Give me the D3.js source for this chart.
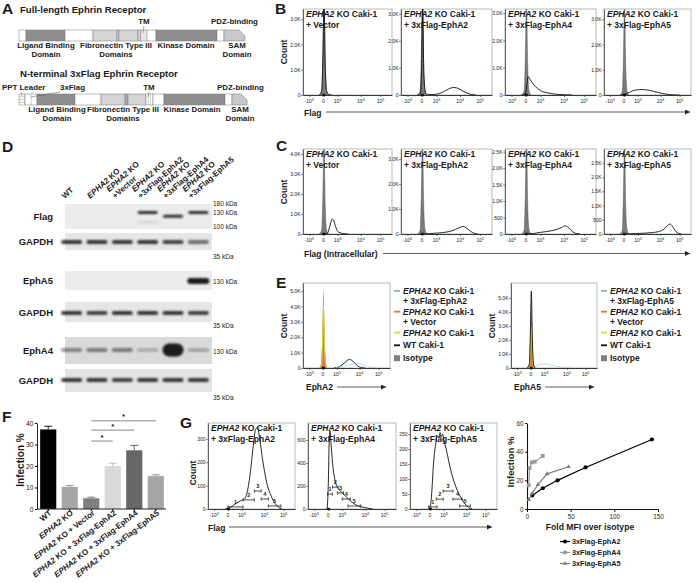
<!DOCTYPE html>
<html><head><meta charset="utf-8">
<script src="https://cdn.jsdelivr.net/npm/d3@7"></script>
<style>
body{margin:0;background:#fff}
svg{font-family:"Liberation Sans",Arial,sans-serif}
text{fill:#1a1a1a}
</style></head><body>
<script>
// ================= DATA =================
// Panel A domain maps [start, end, type]
const fullDomains = [[0,7,"w"],[7,46,"d"],[46,74,"w"],[74,98,"l"],[98,100,"l"],[100,119,"l"],[119,122,"l"],[122,128,"t"],[128,137,"w"],[137,198,"d"],[198,205,"w"],[205,226,"s"]];
const flagDomains = [[0,6,"p"],[6,18,"f"],[18,56,"d"],[56,82,"w"],[82,106,"l"],[106,109,"m"],[109,127,"l"],[127,134,"t"],[134,145,"w"],[145,206,"d"],[206,213,"w"],[213,228,"s"]];
const fullLabels = [["Ligand Binding","Domain",27],["Fibronectin Type III","Domains",97],["Kinase Domain","",167],["SAM","Domain",218]];
const flagLabels = [["Ligand Binding","Domain",38],["Fibronectin Type III","Domains",104],["Kinase Domain","",173],["SAM","Domain",221]];

// Flow x-axis ticks (biexponential decades)
const uTicks = [-1,0,1,2,3];
const uTickLabels = [["-10","3"],["0",""],["10","3"],["10","4"],["10","5"]];

// Panel B (surface Flag)
const bTitles = ["+ Vector","+ 3xFlag-EphA2","+ 3xFlag-EphA4","+ 3xFlag-EphA5"];
const bYmax = [3400,3180,3150,3400];
const bTicks = [[0,1000,2000,3000],[0,1000,2000,3000],[0,1000,2000,3000],[0,1000,2000,3000]];
const isoB = [
 [[-0.3,0],[-0.12,150],[-0.04,1500],[0.04,3700],[0.12,1200],[0.22,150],[0.35,0]],
 [[-0.3,0],[-0.12,150],[-0.04,1400],[0.04,3500],[0.12,1100],[0.22,120],[0.35,0]],
 [[-0.3,0],[-0.12,150],[-0.04,1400],[0.04,3500],[0.12,1100],[0.22,120],[0.35,0]],
 [[-0.3,0],[-0.12,150],[-0.04,1500],[0.04,3700],[0.12,1200],[0.22,150],[0.35,0]]];
const lineB = [
 [[-0.3,0],[-0.12,180],[-0.04,1600],[0.04,3700],[0.12,1300],[0.22,170],[0.4,10],[0.6,0]],
 [[-0.3,0],[-0.1,90],[-0.03,900],[0.05,3400],[0.13,800],[0.25,90],[0.5,15],[1.0,30],[1.3,120],[1.55,240],[1.75,280],[1.95,230],[2.2,120],[2.5,30],[2.8,0]],
 [[-0.3,0],[-0.05,40],[0.05,300],[0.15,670],[0.3,560],[0.5,400],[0.8,240],[1.0,160],[1.3,80],[1.6,35],[2.0,10],[2.4,0]],
 [[-0.2,0],[0.0,20],[0.3,80],[0.6,160],[0.9,200],[1.2,215],[1.5,185],[1.8,120],[2.1,60],[2.4,20],[2.7,5],[3.0,0]]];

// Panel C (intracellular Flag)
const cYmax = [4250,3400,2580,2980];
const cTicks = [[0,1000,2000,3000,4000],[0,1000,2000,3000],[0,500,1000,1500,2000,2500],[0,500,1000,1500,2000,2500]];
const isoC = [
 [[-0.3,0],[-0.12,200],[-0.04,2000],[0.04,4700],[0.12,1500],[0.22,200],[0.35,0]],
 [[-0.3,0],[-0.12,160],[-0.04,1600],[0.04,3800],[0.12,1200],[0.22,160],[0.35,0]],
 [[-0.3,0],[-0.12,120],[-0.04,1200],[0.04,2900],[0.12,900],[0.22,120],[0.35,0]],
 [[-0.3,0],[-0.12,140],[-0.04,1400],[0.04,3300],[0.12,1000],[0.22,140],[0.35,0]]];
const lineC = [
 [[0.1,0],[0.3,60],[0.45,400],[0.6,740],[0.7,700],[0.85,380],[1.0,130],[1.2,30],[1.45,0]],
 [[0.1,0],[0.5,15],[1.0,35],[1.5,90],[1.8,180],[2.0,270],[2.15,300],[2.3,250],[2.5,120],[2.7,30],[2.9,0]],
 [[0.1,0],[0.6,20],[1.0,50],[1.4,90],[1.7,140],[1.9,200],[2.05,250],[2.2,200],[2.4,80],[2.6,15],[2.8,0]],
 [[0.1,0],[0.8,15],[1.4,35],[1.9,80],[2.2,180],[2.4,320],[2.5,350],[2.62,270],[2.78,100],[2.95,20],[3.1,0]]];

// Panel E (EphA2 / EphA5 surface)
const eYmax = [5520,6070];
const eTicks = [0,1000,2000,3000,4000,5000];
const eAxisLabels = ["EphA2","EphA5"];
const isoE = [
 [[-0.3,0],[-0.12,300],[-0.04,2500],[0.03,5100],[0.1,2000],[0.2,300],[0.32,0]],
 [[-0.3,0],[-0.12,260],[-0.04,2200],[0.03,4600],[0.1,1800],[0.2,260],[0.32,0]]];
const orangeE = [
 [[-0.28,0],[-0.1,250],[-0.03,1700],[0.04,3600],[0.11,1400],[0.2,220],[0.3,0]],
 [[-0.28,0],[-0.1,240],[-0.03,1600],[0.04,3400],[0.11,1300],[0.2,200],[0.3,0]]];
const yellowE = [
 [[-0.28,0],[-0.1,250],[-0.03,1800],[0.04,4000],[0.11,1500],[0.2,200],[0.3,0]],
 [[-0.28,0],[-0.1,200],[-0.03,1400],[0.04,3000],[0.11,1100],[0.2,160],[0.3,0]]];
const blackE = [
 [[0.8,0],[1.1,80],[1.35,350],[1.55,560],[1.7,450],[1.9,150],[2.1,30],[2.3,0]],
 [[-0.28,0],[-0.1,300],[-0.03,2500],[0.04,5500],[0.11,2200],[0.2,300],[0.3,0]]];
const blueE = [
 [[0.7,0],[1.1,60],[1.5,200],[1.85,300],[2.1,240],[2.4,100],[2.7,20],[2.9,0]],
 [[0.1,0],[0.3,80],[0.6,220],[0.9,280],[1.2,230],[1.5,130],[1.8,50],[2.1,10],[2.3,0]]];
const eLegendFirst = ["+ 3xFlag-EphA2","+ 3xFlag-EphA5"];

// Panel F
const fCats = ["WT","EPHA2 KO","EPHA2 KO + Vector","EPHA2 KO + 3xFlag-EphA2","EPHA2 KO + 3xFlag-EphA4","EPHA2 KO + 3xFlag-EphA5"];
const fVals = [37,10.3,5,20,27.3,15.3];
const fErr = [1.5,0.6,0.5,1.3,2.3,0.6];
const fColors = ["#000000","#a6a6a6","#7f7f7f","#d9d9d9","#676767","#a6a6a6"];
const fSig = [[2,3,31.6],[2,4,36.7],[2,5,41.0]];

// Panel G histograms
const gTitles = ["+ 3xFlag-EphA2","+ 3xFlag-EphA4","+ 3xFlag-EphA5"];
const gYmax = [368,748,287];
const gTicks = [[0,100,200,300],[0,200,400,600],[0,50,100,150,200,250]];
const lineG = [
 [[-0.2,0],[0,3],[0.3,12],[0.6,25],[0.9,35],[1.1,42],[1.25,80],[1.4,180],[1.5,270],[1.6,340],[1.68,348],[1.8,290],[1.9,220],[2.0,160],[2.15,100],[2.3,65],[2.5,30],[2.7,10],[2.9,0]],
 [[-0.08,0],[0.0,200],[0.07,600],[0.12,680],[0.2,560],[0.35,350],[0.5,240],[0.7,180],[1.0,140],[1.3,80],[1.6,35],[2.0,12],[2.4,0]],
 [[-0.1,0],[0,5],[0.1,40],[0.25,150],[0.4,215],[0.55,245],[0.65,238],[0.72,255],[0.8,240],[0.9,250],[1.0,230],[1.1,200],[1.3,130],[1.5,80],[1.7,45],[1.9,20],[2.1,5],[2.3,0]]];
// gates [uStart, uEnd, countY, label]
const gatesG = [
 [[0,1.05,9,"1"],[1.05,1.55,39,"2"],[1.55,1.85,77,"3"],[1.85,2.2,43,"4"],[2.2,2.85,13,"5"]],
 [[-0.05,0.3,130,"1"],[0.3,0.7,190,"2"],[0.65,1.05,140,"3"],[1.0,1.35,87,"4"],[1.25,1.8,26,"5"]],
 [[-0.1,0.5,7,"1"],[0.45,0.95,33,"2"],[0.95,1.4,60,"3"],[1.4,1.8,33,"4"],[1.7,2.2,10,"5"]]];

// Panel G scatter
const g4Names = ["3xFlag-EphA2","3xFlag-EphA4","3xFlag-EphA5"];
const g4A2 = [[6,9.5],[18,14.5],[35,20],[67,29],[143,48.5]];
const g4A4 = [[2,16.5],[3,28.5],[5.5,32.5],[9,33],[18,37]];
const g4A5 = [[2,6.5],[6,11],[12.5,17],[23,24.5],[47.5,29.5]];

// Panel D blot
const dLanes = [["WT"],["EPHA2 KO"],["EPHA2 KO","+Vector"],["EPHA2 KO","+3xFlag-EphA2"],["EPHA2 KO","+3xFlag-EphA4"],["EPHA2 KO","+3xFlag-EphA5"]];
const flagBands = [[3,130,0.9],[4,122,0.9],[5,130,0.9],[3,110,0.12]]; // lane, kDa, intensity
const gapdh1 = [0.85,0.85,0.85,0.85,0.8,0.6];
const gapdh2 = [0.85,0.8,0.85,0.85,0.85,0.8];
const gapdh3 = [0.85,0.85,0.8,0.85,0.85,0.85];
const epha5Int = [0,0,0,0,0,1];
const epha4Int = [0.45,0.5,0.5,0.3,1,0.35];
const epha4Thick = [4,4,4,3,13,3];

// ================= DRAW =================
const svg = d3.select("body").append("svg").attr("width",696).attr("height",583);
const defs = svg.append("defs");
defs.append("filter").attr("id","blur").attr("x","-20%").attr("y","-50%").attr("width","140%").attr("height","200%")
  .append("feGaussianBlur").attr("stdDeviation",0.8);
defs.append("marker").attr("id","arr").attr("viewBox","0 0 10 10").attr("refX",10).attr("refY",5)
  .attr("markerWidth",6).attr("markerHeight",5).attr("markerUnits","userSpaceOnUse").attr("orient","auto")
  .append("path").attr("d","M0,0L10,5L0,10Z").attr("fill","#222");

function rich(t, str){
  str.split(/(EPHA2)/).forEach(p=>{ if(!p) return; const s=t.append("tspan").text(p); if(p==="EPHA2") s.attr("font-style","italic"); });
  return t;
}
function txt(g,x,y,str,size,opts={}){
  const t=g.append("text").attr("x",x).attr("y",y).attr("font-size",size).attr("font-weight",opts.w||"bold").attr("text-anchor",opts.a||"start").attr("fill","#161616");
  rich(t,str); return t;
}
function vlabel(g,cx,cy,str,size){
  g.append("text").attr("transform",`translate(${cx},${cy}) rotate(-90)`).attr("text-anchor","middle").attr("font-size",size).attr("font-weight","bold").attr("fill","#161616").text(str);
}
function arrowLabel(x,y,label,x1,x2,ly){
  txt(svg,x,y,label,8.5);
  svg.append("line").attr("x1",x1).attr("x2",x2).attr("y1",ly).attr("y2",ly).attr("stroke","#333").attr("stroke-width",0.8).attr("marker-end","url(#arr)");
}
// panel letters
[["A",2,14],["B",275,14],["C",276,151],["D",2,152],["E",276,288],["F",2,422],["G",180,428]].forEach(d=>{
  svg.append("text").attr("x",d[1]).attr("y",d[2]).attr("font-size",15.5).attr("font-weight","bold").attr("fill","#111").text(d[0]);
});

// ---------- Panel A ----------
const ax = d3.scaleLinear().domain([0,228]).range([19,247]);
const domFill = {w:"#ffffff",d:"#8e8e8e",l:"#d5d5d5",m:"#ababab",t:"#ffffff",p:"#ffffff",f:"#ffffff",s:"#c9c9c9"};
function drawBar(doms, y0, h){
  const g=svg.append("g");
  doms.forEach(d=>{
    const x0=ax(d[0]), x1=ax(d[1]);
    if(d[2]==="s"){
      g.append("polygon").attr("points",[[x0,y0],[x1-6,y0],[x1,y0+6],[x1,y0+h],[x0,y0+h]].map(p=>p.join(",")).join(" "))
        .attr("fill",domFill.s).attr("stroke","#777").attr("stroke-width",0.5);
      return;
    }
    g.append("rect").attr("x",x0).attr("y",y0).attr("width",x1-x0).attr("height",h).attr("fill",domFill[d[2]]).attr("stroke","#777").attr("stroke-width",0.5);
    if(d[2]==="t"){ [0.35,0.65].forEach(f=>g.append("line").attr("x1",x0+(x1-x0)*f).attr("x2",x0+(x1-x0)*f).attr("y1",y0).attr("y2",y0+h).attr("stroke","#888").attr("stroke-width",0.4)); }
    if(d[2]==="p"){ [0.25,0.5,0.75].forEach(f=>g.append("line").attr("x1",x0).attr("x2",x1).attr("y1",y0+h*f).attr("y2",y0+h*f).attr("stroke","#777").attr("stroke-width",0.4)); }
    if(d[2]==="f"){ g.append("line").attr("x1",(x0+x1)/2).attr("x2",(x0+x1)/2).attr("y1",y0).attr("y2",y0+h).attr("stroke","#777").attr("stroke-width",0.4); }
  });
  return g;
}
const aT=9.6, aL=7.9;
txt(svg,20,13,"Full-length Ephrin Receptor",aT);
drawBar(fullDomains,30,11);
txt(svg,ax(125),24,"TM",aL,{a:"middle"});
svg.append("line").attr("x1",ax(125)).attr("x2",ax(124)).attr("y1",26).attr("y2",33).attr("stroke","#555").attr("stroke-width",0.5);
txt(svg,211,24,"PDZ-binding",aL);
fullLabels.forEach(l=>{ txt(svg,ax(l[2]),48,l[0],aL,{a:"middle"}); if(l[1]) txt(svg,ax(l[2]),56.5,l[1],aL,{a:"middle"}); });

txt(svg,20,77,"N-terminal 3xFlag Ephrin Receptor",aT);
drawBar(flagDomains,94,11);
txt(svg,2,90,"PPT Leader",aL);
txt(svg,60,90,"3xFlag",aL);
svg.append("line").attr("x1",60).attr("x2",31).attr("y1",92).attr("y2",97).attr("stroke","#555").attr("stroke-width",0.5);
svg.append("line").attr("x1",21).attr("x2",22).attr("y1",92).attr("y2",96).attr("stroke","#555").attr("stroke-width",0.5);
txt(svg,ax(130),90,"TM",aL,{a:"middle"});
svg.append("line").attr("x1",ax(130)).attr("x2",ax(129)).attr("y1",92).attr("y2",97).attr("stroke","#555").attr("stroke-width",0.5);
txt(svg,217,90,"PDZ-binding",aL);
flagLabels.forEach(l=>{ txt(svg,ax(l[2]),112,l[0],aL,{a:"middle"}); if(l[1]) txt(svg,ax(l[2]),120.5,l[1],aL,{a:"middle"}); });

// ---------- Flow helper ----------
const tickFrac=[0.07,0.23,0.39,0.65,0.87];
function flowX(x0,x1){ const w=x1-x0; return d3.scaleLinear().domain([-1.45,-1,0,1,2,3,3.6]).range([0,...tickFrac,1].map(f=>x0+f*w)).clamp(true); }
const kfmt = v => v===0?"0":(v>=1000?(v/1000).toFixed(1)+"K":String(v));
const minorU = [];
[2,3,4,5,6,7,8,9].forEach(k=>{ [0,1,2].forEach(d=>minorU.push(d+Math.log10(k))); minorU.push(-Math.log10(k)); });
[2,3].forEach(k=>minorU.push(3+Math.log10(k)));
let cn=0;
function flow(o){
  const g=svg.append("g");
  const x=flowX(o.x0,o.x1);
  const y=d3.scaleLinear().domain([0,o.yMax]).range([o.y1,o.y0]);
  const cid="clip"+(cn++);
  defs.append("clipPath").attr("id",cid).append("rect").attr("x",o.x0).attr("y",o.y0).attr("width",o.x1-o.x0).attr("height",o.y1-o.y0);
  g.append("rect").attr("x",o.x0).attr("y",o.y0).attr("width",o.x1-o.x0).attr("height",o.y1-o.y0).attr("fill","#fff").attr("stroke","#a8a8a8").attr("stroke-width",0.8);
  const cg=g.append("g").attr("clip-path",`url(#${cid})`);
  o.curves.forEach(c=>{
    if(c.fill){
      const ar=d3.area().x(d=>x(d[0])).y0(y(0)).y1(d=>y(d[1])).curve(d3.curveMonotoneX);
      cg.append("path").attr("d",ar(c.data)).attr("fill",c.fill).attr("fill-opacity",c.op||1);
    }
    if(c.stroke){
      const ln=d3.line().x(d=>x(d[0])).y(d=>y(d[1])).curve(d3.curveMonotoneX);
      cg.append("path").attr("d",ln(c.data)).attr("fill","none").attr("stroke",c.stroke).attr("stroke-width",c.sw||0.9).attr("stroke-dasharray",c.dash||null);
    }
  });
  const ya=g.append("g").attr("transform",`translate(${o.x0},0)`).call(d3.axisLeft(y).tickValues(o.yTicks).tickSize(2).tickSizeOuter(0).tickFormat(kfmt));
  ya.select(".domain").attr("stroke","#444").attr("stroke-width",0.8);
  ya.selectAll(".tick line").attr("stroke","#444").attr("stroke-width",0.6);
  ya.selectAll("text").attr("font-size",5).attr("fill","#333").attr("font-family","Liberation Sans, Arial, sans-serif").attr("x",-2.5);
  const xa=g.append("g").attr("transform",`translate(0,${o.y1})`).call(d3.axisBottom(x).tickValues(uTicks).tickSize(2).tickSizeOuter(0).tickFormat(""));
  xa.select(".domain").attr("stroke","#222").attr("stroke-width",0.9);
  xa.selectAll(".tick line").attr("stroke","#333").attr("stroke-width",0.6);
  const xm=g.append("g").attr("transform",`translate(0,${o.y1})`).call(d3.axisBottom(x).tickValues(minorU).tickSize(1.2).tickSizeOuter(0).tickFormat(""));
  xm.select(".domain").remove(); xm.selectAll(".tick line").attr("stroke","#444").attr("stroke-width",0.4);
  uTicks.forEach((u,i)=>{
    const t=g.append("text").attr("x",x(u)).attr("y",o.y1+7.5).attr("font-size",5).attr("text-anchor","middle").attr("fill","#333");
    t.append("tspan").text(uTickLabels[i][0]);
    if(uTickLabels[i][1]) t.append("tspan").attr("dy",-2).attr("font-size",3.6).text(uTickLabels[i][1]);
  });
  g.append("rect").attr("x",x(-0.08)).attr("y",o.y1-1.2).attr("width",3).attr("height",2.4).attr("fill","#111");
  if(o.title){
    txt(g,o.x0+3,o.y0+8,"EPHA2 KO Caki-1",8.5);
    txt(g,o.x0+3,o.y0+18.5,o.title,8.5);
  }
  (o.gates||[]).forEach(gt=>{
    const a=x(gt[0]), b=x(gt[1]), yy=y(gt[2]);
    g.append("line").attr("x1",a).attr("x2",b).attr("y1",yy).attr("y2",yy).attr("stroke","#222").attr("stroke-width",0.8);
    [a,b].forEach(xx=>g.append("line").attr("x1",xx).attr("x2",xx).attr("y1",yy-1.6).attr("y2",yy+1.6).attr("stroke","#222").attr("stroke-width",0.8));
    g.append("text").attr("x",(a+b)/2).attr("y",yy-3).attr("font-size",5.5).attr("font-weight","bold").attr("text-anchor","middle").attr("fill","#161616").text(gt[3]);
  });
  return {x,y};
}

// ---------- Panels B and C ----------
const flowCols=[[303,392],[401,492],[505,596],[604,691]];
flowCols.forEach((c,i)=>{
  flow({x0:c[0],x1:c[1],y0:9,y1:95,yMax:bYmax[i],yTicks:bTicks[i],title:bTitles[i],
    curves:[{data:isoB[i],fill:"#7a7a7a"},{data:isoB[i],stroke:"#555",sw:0.5},{data:lineB[i],stroke:"#111",sw:0.9}]});
  flow({x0:c[0],x1:c[1],y0:149,y1:234,yMax:cYmax[i],yTicks:cTicks[i],title:bTitles[i],
    curves:[{data:isoC[i],fill:"#7a7a7a"},{data:isoC[i],stroke:"#555",sw:0.5},{data:lineC[i],stroke:"#111",sw:0.9}]});
});
vlabel(svg,287,52,"Count",8.5);
vlabel(svg,287,192,"Count",8.5);
arrowLabel(304,115.5,"Flag",326,690,112);
arrowLabel(304,257,"Flag (Intracellular)",383,690,253.5);

// ---------- Panel E ----------
const eBoxes=[[303,390],[511,597]];
const eColors={blue:"#8fb4dc",orange:"#e2793a",yellow:"#d5df3c",black:"#111",gray:"#7f7f7f"};
eBoxes.forEach((b,i)=>{
  flow({x0:b[0],x1:b[1],y0:283,y1:368,yMax:eYmax[i],yTicks:eTicks,
    curves:[{data:isoE[i],fill:"#808080"},
            {data:orangeE[i],fill:eColors.orange,op:0.85},{data:orangeE[i],stroke:eColors.orange,sw:0.9},
            {data:yellowE[i],stroke:eColors.yellow,sw:0.9},
            {data:blackE[i],stroke:eColors.black,sw:0.9},
            {data:blueE[i],stroke:eColors.blue,sw:0.8,dash:"2,1"}]});
  vlabel(svg,b[0]-16,326,"Count",8.5);
  const lx=b[1]+4;
  const items=[{lines:["EPHA2 KO Caki-1",eLegendFirst[i]],c:eColors.blue},{lines:["EPHA2 KO Caki-1","+ Vector"],c:eColors.orange},
               {lines:["EPHA2 KO Caki-1"],c:eColors.yellow},{lines:["WT Caki-1"],c:eColors.black},{lines:["Isotype"],c:eColors.gray,sq:true}];
  let yy=294;
  items.forEach(it=>{
    if(it.sq) svg.append("rect").attr("x",lx).attr("y",yy-6).attr("width",6).attr("height",6).attr("fill",it.c);
    else svg.append("rect").attr("x",lx).attr("y",yy-4).attr("width",6).attr("height",1.8).attr("fill",it.c);
    it.lines.forEach((l,j)=>txt(svg,lx+9,yy+j*10.4,l,8.5));
    yy+=it.lines.length*10.4+(it.lines.length===1?2.4:0);
  });
  arrowLabel(b[0]+3,390,eAxisLabels[i],b[0]+34,b[0]+83,387);
});

// ---------- Panel D ----------
const lx = d3.scaleBand().domain(d3.range(6)).range([59,211]);
const lc = i=>lx(i)+lx.bandwidth()/2;
const strips=[{y0:204,y1:229},{y0:233,y1:250},{y0:271,y1:290},{y0:302,y1:322},{y0:337,y1:364},{y0:369,y1:392}];
const stripNames=["Flag","GAPDH","EphA5","GAPDH","EphA4","GAPDH"];
const stripBg=["#ececec","#e6e6e6","#ececec","#e6e6e6","#dadada","#e4e4e4"];
strips.forEach((s,i)=>{
  svg.append("rect").attr("x",65).attr("y",s.y0).attr("width",147).attr("height",s.y1-s.y0).attr("fill",stripBg[i]);
  txt(svg,53,(s.y0+s.y1)/2+3.5,stripNames[i],9.5,{a:"end"});
});
const bandG = svg.append("g").attr("filter","url(#blur)");
function band(lane,yc,h,intensity,w){
  if(intensity<=0) return;
  bandG.append("rect").attr("x",lc(lane)-(w||10)).attr("y",yc-h/2).attr("width",2*(w||10)).attr("height",h).attr("rx",h/2)
    .attr("fill","#1a1a1a").attr("fill-opacity",intensity);
}
const mwFlag = d3.scaleLinear().domain([180,130,100]).range([204,212.5,227]);
flagBands.forEach(b=>band(b[0],mwFlag(b[1]),b[2]>0.5?3:2,b[2],10));
gapdh1.forEach((v,i)=>band(i,242,4,v,10.5));
gapdh2.forEach((v,i)=>band(i,313,4,v,10.5));
gapdh3.forEach((v,i)=>band(i,380,4,v,10.5));
epha5Int.forEach((v,i)=>band(i,281,6,v,11));
epha4Int.forEach((v,i)=>band(i,350,epha4Thick[i],v,10.5));
[["180 kDa",mwFlag(180)],["130 kDa",mwFlag(130)],["100 kDa",mwFlag(100)],["35 kDa",257],["130 kDa",282],["35 kDa",326],["130 kDa",352],["35 kDa",398]]
  .forEach(m=>svg.append("text").attr("x",213).attr("y",m[1]+2).attr("font-size",6.5).attr("fill","#222").text(m[0]));
dLanes.forEach((l,i)=>{
  const g=svg.append("g").attr("transform",`translate(${lc(i)-7},199) rotate(-42)`);
  l.forEach((line,j)=>{
    const t=g.append("text").attr("x",0).attr("y",-(l.length-1-j)*9).attr("font-size",8).attr("font-weight","bold").attr("fill","#161616");
    rich(t,line);
  });
});

// ---------- Panel F ----------
const fx=d3.scaleBand().domain(fCats).range([38,166]).paddingInner(0.25).paddingOuter(0.1);
const fy=d3.scaleLinear().domain([0,40]).range([509,423]);
const fg=svg.append("g");
fCats.forEach((c,i)=>{
  const cx=fx(c)+fx.bandwidth()/2;
  const ec=i===0?"#000":d3.color(fColors[i]).darker(0.5).formatHex();
  fg.append("line").attr("x1",cx).attr("x2",cx).attr("y1",fy(fVals[i])).attr("y2",fy(fVals[i]+fErr[i])).attr("stroke",ec).attr("stroke-width",0.9);
  fg.append("line").attr("x1",cx-4).attr("x2",cx+4).attr("y1",fy(fVals[i]+fErr[i])).attr("y2",fy(fVals[i]+fErr[i])).attr("stroke",ec).attr("stroke-width",0.9);
  fg.append("rect").attr("x",fx(c)).attr("y",fy(fVals[i])).attr("width",fx.bandwidth()).attr("height",fy(0)-fy(fVals[i])).attr("fill",fColors[i]);
});
const fya=fg.append("g").attr("transform","translate(37,0)").call(d3.axisLeft(fy).tickValues([0,10,20,30,40]).tickSize(2).tickPadding(1.5).tickSizeOuter(0));
fya.selectAll("text").attr("font-size",6.8).attr("font-family","Liberation Sans, Arial, sans-serif").attr("fill","#222");
fya.select(".domain").attr("stroke","#222");
const fxa=fg.append("g").attr("transform","translate(0,509)").call(d3.axisBottom(fx).tickSize(2).tickSizeOuter(0).tickFormat(""));
fxa.select(".domain").attr("d","M37,0H166").attr("stroke","#222");
fCats.forEach(c=>{
  const cx=fx(c)+fx.bandwidth()/2;
  const t=fg.append("text").attr("transform",`translate(${cx+4},514) rotate(-38)`).attr("text-anchor","end").attr("font-size",8).attr("font-weight","bold").attr("fill","#161616");
  rich(t,c);
});
fSig.forEach(s=>{
  const a=fx(fCats[s[0]])+fx.bandwidth()/2, b=fx(fCats[s[1]])+fx.bandwidth()/2, yy=fy(s[2]);
  fg.append("line").attr("x1",a).attr("x2",b).attr("y1",yy).attr("y2",yy).attr("stroke","#7a7a7a").attr("stroke-width",0.9);
  fg.append("text").attr("x",(a+b)/2).attr("y",yy-1.5).attr("text-anchor","middle").attr("font-size",8).attr("font-weight","bold").attr("fill","#222").text("*");
});
vlabel(svg,24,460,"Infection %",10);

// ---------- Panel G histograms ----------
const gBoxes=[[208,295],[308,396],[410,497]];
gBoxes.forEach((b,i)=>{
  flow({x0:b[0],x1:b[1],y0:423,y1:509,yMax:gYmax[i],yTicks:gTicks[i],title:gTitles[i],gates:gatesG[i],
    curves:[{data:lineG[i],stroke:"#111",sw:0.9}]});
});
vlabel(svg,196,473,"Count",8.5);
arrowLabel(208,530.5,"Flag",229,492,527);

// ---------- Panel G scatter ----------
const gx=d3.scaleLinear().domain([0,150]).range([527,658]);
const gy=d3.scaleLinear().domain([0,60]).range([509,423]);
const sg=svg.append("g");
const gxa=sg.append("g").attr("transform","translate(0,509)").call(d3.axisBottom(gx).tickValues([0,50,100,150]).tickSize(3).tickSizeOuter(0));
const gya=sg.append("g").attr("transform","translate(527,0)").call(d3.axisLeft(gy).tickValues([0,20,40,60]).tickSize(2).tickPadding(1.5).tickSizeOuter(0));
[gxa,gya].forEach(a=>{ a.selectAll("text").attr("font-size",6.3).attr("font-family","Liberation Sans, Arial, sans-serif").attr("fill","#222"); a.select(".domain").attr("stroke","#111").attr("stroke-width",1.1); a.selectAll(".tick line").attr("stroke","#111"); });
const g4Series=[{d:g4A2,c:"#000",m:"circle"},{d:g4A4,c:"#9a9a9a",m:"square"},{d:g4A5,c:"#7d7d7d",m:"triangle"}];
function marker(g,type,cx,cy,c,s){
  if(type==="circle") g.append("circle").attr("cx",cx).attr("cy",cy).attr("r",s*0.55).attr("fill",c);
  else if(type==="square") g.append("rect").attr("x",cx-s*0.5).attr("y",cy-s*0.5).attr("width",s).attr("height",s).attr("fill",c);
  else g.append("path").attr("d",d3.symbol(d3.symbolTriangle,s*s*0.6)()).attr("transform",`translate(${cx},${cy})`).attr("fill",c);
}
g4Series.forEach(s=>{
  sg.append("path").attr("d",d3.line().x(d=>gx(d[0])).y(d=>gy(d[1]))(s.d)).attr("fill","none").attr("stroke",s.c).attr("stroke-width",1.2);
  s.d.forEach(d=>marker(sg,s.m,gx(d[0]),gy(d[1]),s.c,3.8));
});
txt(svg,590,530,"Fold MFI over isotype",8.6,{a:"middle"});
vlabel(svg,514,462,"Infection %",9.5);
g4Series.forEach((s,i)=>{
  const yy=544+i*11;
  svg.append("line").attr("x1",560).attr("x2",570).attr("y1",yy-2.5).attr("y2",yy-2.5).attr("stroke",s.c).attr("stroke-width",1.2);
  marker(svg,s.m,565,yy-2.5,s.c,3.6);
  txt(svg,572,yy,g4Names[i],7.3);
});
</script></body></html>
